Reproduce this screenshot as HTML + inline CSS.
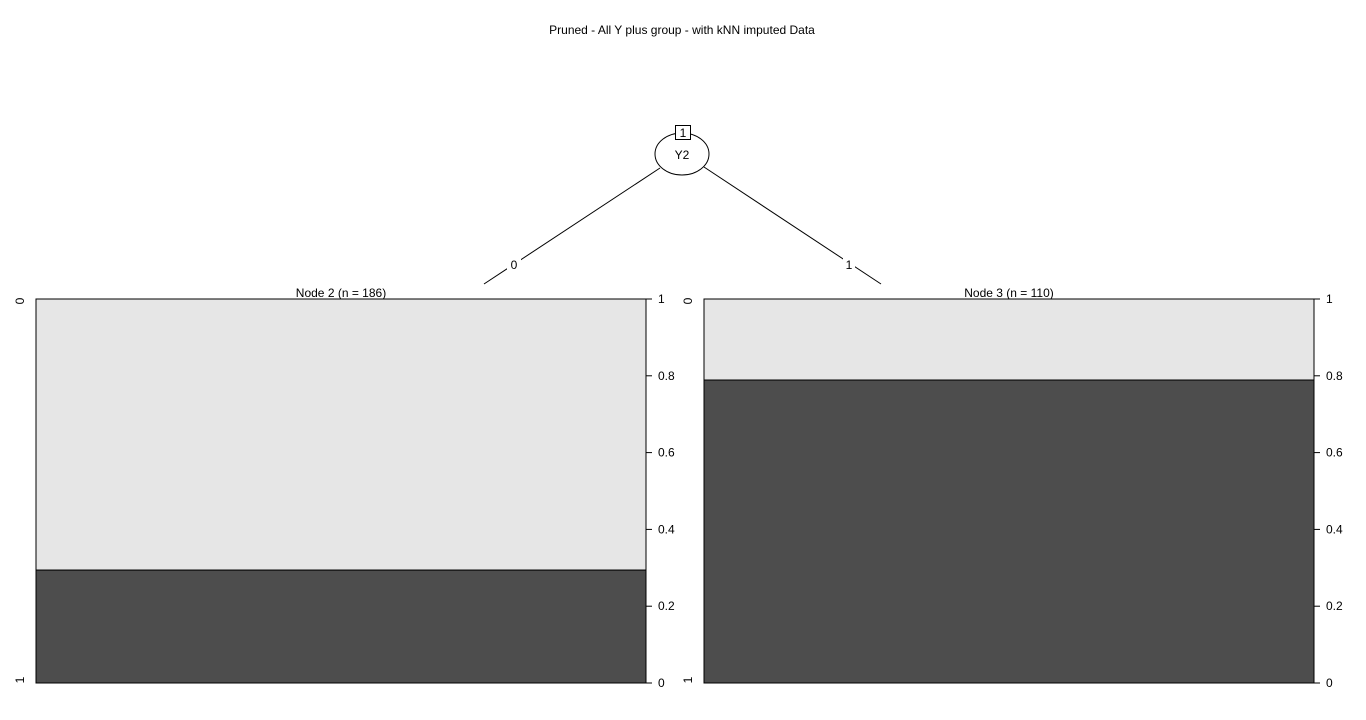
<!DOCTYPE html>
<html><head><meta charset="utf-8"><style>
body{margin:0;background:#fff;}
svg{display:block;font-family:"Liberation Sans",Arial,sans-serif;}
</style></head><body>
<svg id="c" width="1366" height="720">
<text x="682" y="34" text-anchor="middle" font-size="12">Pruned - All Y plus group - with kNN imputed Data</text>
<g>
<line x1="660" y1="168" x2="484" y2="284" stroke="#000" stroke-width="1"/>
<line x1="704" y1="167" x2="881" y2="284" stroke="#000" stroke-width="1"/>
<rect x="507" y="258" width="14" height="13" fill="#fff"/>
<rect x="843" y="258" width="12" height="13" fill="#fff"/>
<text x="514" y="269" text-anchor="middle" font-size="12">0</text>
<text x="849" y="269" text-anchor="middle" font-size="12">1</text>
<ellipse cx="682" cy="154" rx="27" ry="21" fill="#fff" stroke="#000"/>
<text x="682" y="159" text-anchor="middle" font-size="12">Y2</text>
<rect x="675.5" y="125.5" width="15" height="14" fill="#fff" stroke="#000"/>
<text x="683" y="137" text-anchor="middle" font-size="12">1</text>
</g>
<g id="panels"></g>
</svg>
<script>
const nodeLabels = ["Node 2 (n = 186)", "Node 3 (n = 110)"];
const class1Share = [0.294, 0.789];
const tickValues = [0, 0.2, 0.4, 0.6, 0.8, 1];
const tickLabels = ["0", "0.2", "0.4", "0.6", "0.8", "1"];

const NS = "http://www.w3.org/2000/svg";
const panelsG = document.getElementById("panels");
const panelX = [36, 704], panelW = 610, panelTop = 299, panelBottom = 683;
const yScale = v => panelBottom - v * (panelBottom - panelTop);
function mk(tag, attrs, parent, text){
  const e = document.createElementNS(NS, tag);
  for (const k in attrs) e.setAttribute(k, attrs[k]);
  if (text !== undefined) e.textContent = text;
  parent.appendChild(e); return e;
}
nodeLabels.forEach((lab, i) => {
  const x0 = panelX[i];
  const p = mk("g", {}, panelsG);
  
  
  const yb = yScale(class1Share[i]);
  const light = mk("rect", {x:x0, y:panelTop, width:panelW, height:yb - panelTop, fill:"#e6e6e6", stroke:"#000"}, p);
  
  
  const dark = mk("rect", {x:x0, y:yb, width:panelW, height:panelBottom - yb, fill:"#4d4d4d", stroke:"#000"}, p);
  
  
  const t = mk("text", {x:x0 + panelW/2, y:panelTop - 2, "text-anchor":"middle", "font-size":12}, p, lab);
  
  
  const l0 = mk("text", {x:0, y:0, "text-anchor":"middle", "font-size":12, transform:`translate(${x0-12},${panelTop+2}) rotate(-90)`}, p, "0");
  
  
  const l1 = mk("text", {x:0, y:0, "text-anchor":"middle", "font-size":12, transform:`translate(${x0-12},${panelBottom-3}) rotate(-90)`}, p, "1");
  
  
  tickValues.forEach((v, j) => {
    const tk = mk("line", {x1:x0+panelW, x2:x0+panelW+6, y1:yScale(v), y2:yScale(v), stroke:"#000"}, p);
    
    
    const tl = mk("text", {x:x0+panelW+12, y:yScale(v)+4, "font-size":12}, p, tickLabels[j]);
    
    
  });
});
</script>
</body></html>
